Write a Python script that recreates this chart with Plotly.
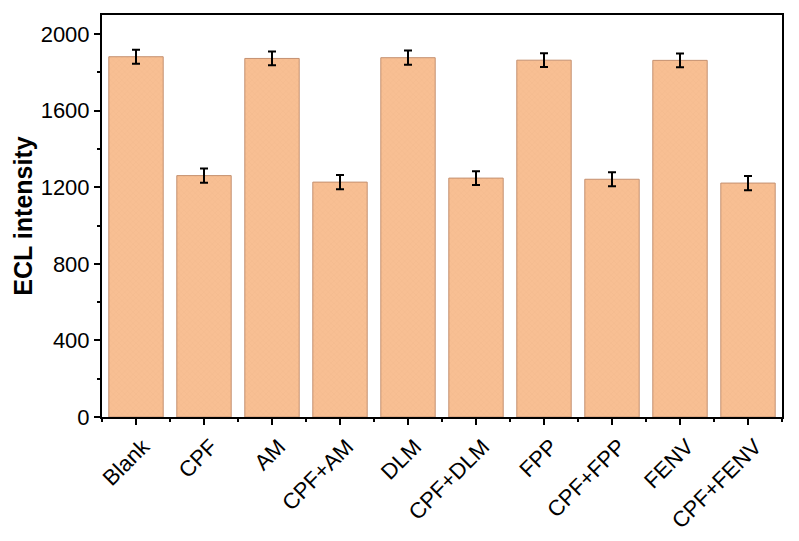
import plotly.graph_objects as go

categories = ["Blank", "CPF", "AM", "CPF+AM", "DLM", "CPF+DLM", "FPP", "CPF+FPP", "FENV", "CPF+FENV"]
values = [1882, 1261, 1873, 1227, 1877, 1248, 1864, 1242, 1863, 1222]
errors = [37, 37, 36, 37, 37, 36, 36, 37, 36, 37]

x_pos = list(range(len(categories)))

fig = go.Figure()
fig.add_trace(go.Bar(
    x=x_pos, y=values, width=0.8,
    marker=dict(
        color="#F8BF93",
        line=dict(color="#C49070", width=1),
        pattern=dict(shape="x", size=4, solidity=0.15, fgcolor="#EBAA7E", bgcolor="#F8BF93"),
    ),
    error_y=dict(type="data", array=errors, visible=True, color="black", thickness=2, width=4),
    showlegend=False,
))

font_family = "Liberation Sans, Arial, sans-serif"

fig.update_layout(
    width=799, height=541,
    margin=dict(l=102, r=17, t=15, b=124),
    plot_bgcolor="white", paper_bgcolor="white",
    font=dict(family=font_family, size=22, color="black"),
    bargap=0.2,
)
fig.update_xaxes(
    range=[-0.5, 9.5],
    tickmode="array", tickvals=x_pos, ticktext=categories,
    tickangle=-45, tickfont=dict(size=22),
    ticklabelshift=7,
    showline=True, linecolor="black", linewidth=2, mirror=True,
    ticks="outside", ticklen=6, tickwidth=2, tickcolor="black",
    minor=dict(tickmode="array", tickvals=[i + 0.5 for i in range(-1, 10)], ticks="outside", ticklen=3, tickwidth=2, tickcolor="black"),
    showgrid=False, zeroline=False, automargin=False,
)
fig.update_yaxes(
    range=[0, 2100],
    tickmode="linear", tick0=0, dtick=400,
    tickfont=dict(size=22),
    showline=True, linecolor="black", linewidth=2, mirror=True,
    ticks="outside", ticklen=6, tickwidth=2, tickcolor="black",
    minor=dict(dtick=200, ticks="outside", ticklen=3, tickwidth=2, tickcolor="black"),
    showgrid=False, zeroline=False, automargin=False,
    title=dict(text="<b>ECL intensity</b>", font=dict(size=25), standoff=1),
)

fig.write_html("out.html")
